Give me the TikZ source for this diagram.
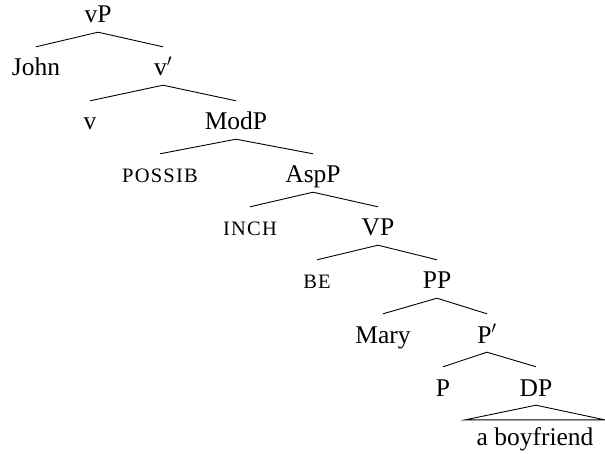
\documentclass[tikz,border=0pt]{standalone}
\usepackage{fontspec}
\setmainfont{Liberation Serif}
\tikzset{lab/.style={anchor=base,inner sep=0pt,text height=29pt,text depth=9pt,font=\fontsize{25.5}{30}\selectfont},
  sclab/.style={lab,font=\fontsize{20.5}{24}\selectfont\addfontfeatures{LetterSpace=6}},
  roof/.style={anchor=base,inner ysep=0pt,inner xsep=11pt,text height=25pt,text depth=0pt,font=\fontsize{25.5}{30}\selectfont},
  edge/.style={line width=0.9pt}}
\begin{document}
\begin{tikzpicture}[x=1pt,y=-1pt]
\useasboundingbox(0,0)rectangle(605,454);
\node[lab](vP)at(98,23){vP};
\node[lab](John)at(36,76){John};
\node[lab](vbar)at(163,76){v$'$};
\node[lab](v)at(90,130){v};
\node[lab](ModP)at(236,130){ModP};
\node[sclab](possib)at(160,183){POSSIB};
\node[lab](AspP)at(313,183){AspP};
\node[sclab](inch)at(250,236){INCH};
\node[lab](VP)at(378,236){VP};
\node[sclab](be)at(317,289){BE};
\node[lab](PP)at(437,289){PP};
\node[lab](Mary)at(383,343){Mary};
\node[lab](Pbar)at(487,343){P$'$};
\node[lab](P)at(443,396){P};
\node[lab](DP)at(536,396){DP};
\node[roof](boy)at(535,445){a boyfriend};
% branches
\draw[edge](vP.south)--(John.north);
\draw[edge](vP.south)--(vbar.north);
\draw[edge](vbar.south)--(v.north);
\draw[edge](vbar.south)--(ModP.north);
\draw[edge](ModP.south)--(possib.north);
\draw[edge](ModP.south)--(AspP.north);
\draw[edge](AspP.south)--(inch.north);
\draw[edge](AspP.south)--(VP.north);
\draw[edge](VP.south)--(be.north);
\draw[edge](VP.south)--(PP.north);
\draw[edge](PP.south)--(Mary.north);
\draw[edge](PP.south)--(Pbar.north);
\draw[edge](Pbar.south)--(P.north);
\draw[edge](Pbar.south)--(DP.north);
\draw[edge](DP.south)--(boy.north west)--(boy.north east)--cycle;
\end{tikzpicture}
\end{document}
